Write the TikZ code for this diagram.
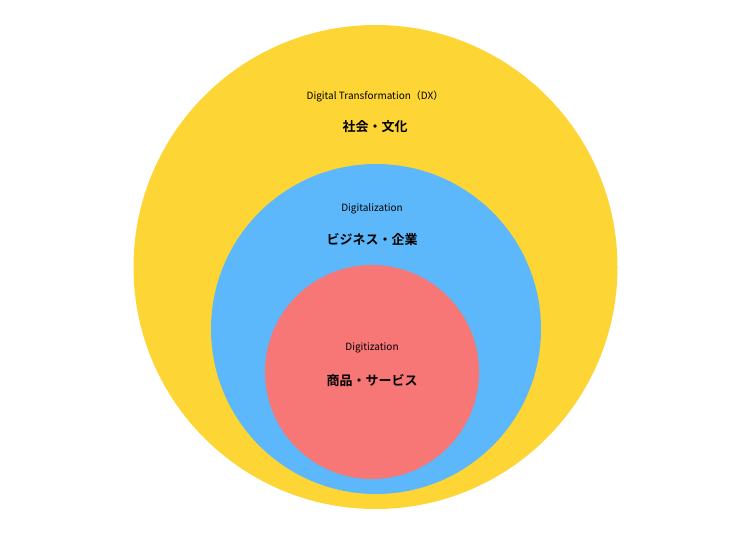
\documentclass[tikz,border=0pt]{standalone}
\usepackage{fontspec}
\setmainfont{Noto Sans CJK JP}
\newfontfamily\jpb{Noto Sans CJK JP Bold}
\definecolor{yel}{HTML}{FDD535}
\definecolor{blu}{HTML}{5CB8FA}
\definecolor{rd}{HTML}{F77676}
\begin{document}
\begin{tikzpicture}[x=1pt,y=-1pt,
  lbl/.style={font=\fontsize{10}{12}\selectfont},
  jlbl/.style={font=\jpb\fontsize{13}{15}\selectfont}]
\useasboundingbox (0,0) rectangle (750,536);
\fill[yel] (375.5,267) circle (242);
\fill[blu] (376,329) circle (165);
\fill[rd] (372,372) circle (107);
\node[lbl] (t1) at (375,96) {Digital Transformation（DX）};
\node[jlbl] (j1) at (375,127) {社会・文化};
\node[lbl] (t2) at (372,209) {Digitalization};
\node[jlbl] (j2) at (372,240) {ビジネス・企業};
\node[lbl] (t3) at (372,348) {Digitization};
\node[jlbl] (j3) at (372,381) {商品・サービス};
\end{tikzpicture}
\end{document}
